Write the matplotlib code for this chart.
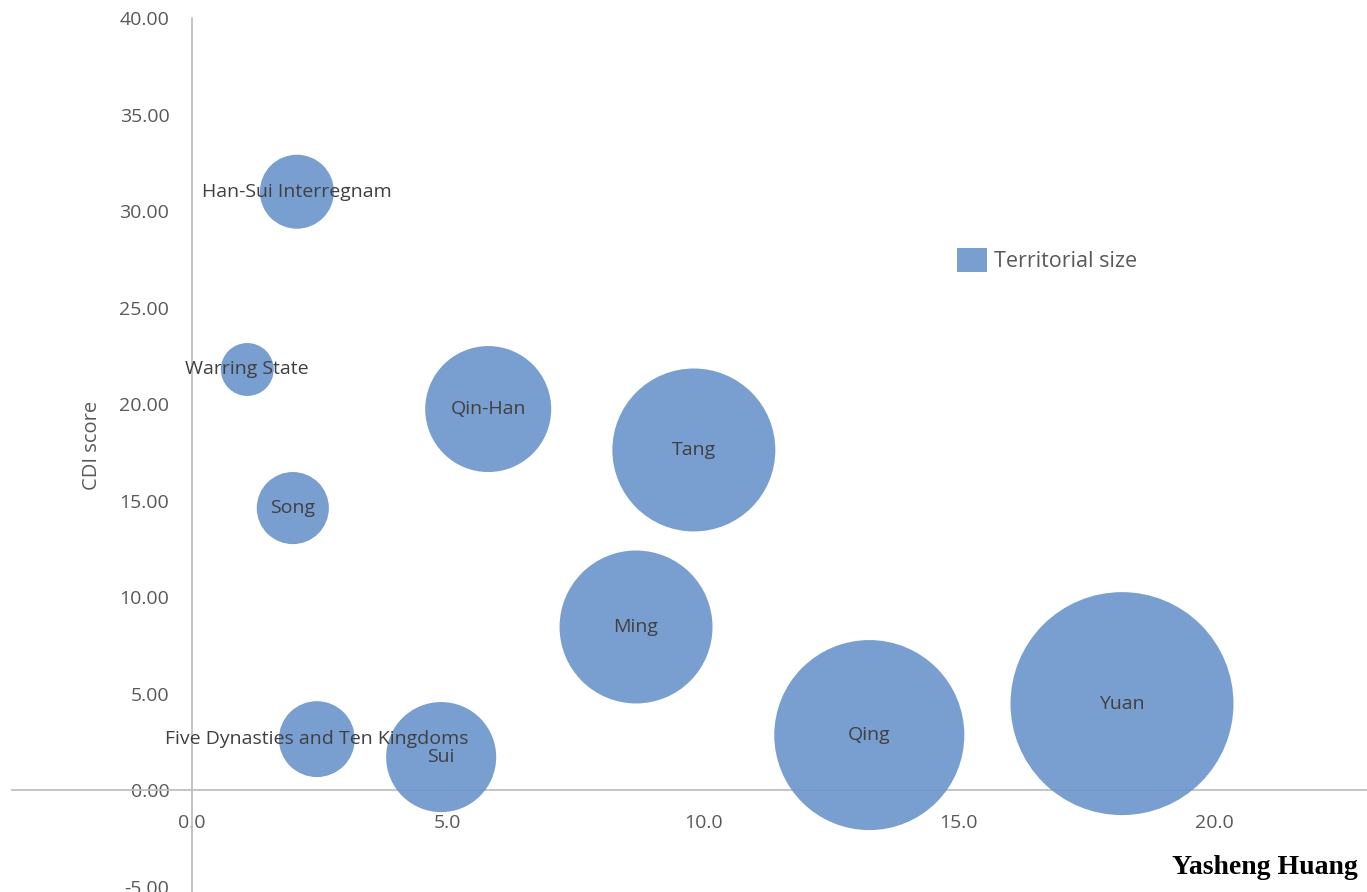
import matplotlib.pyplot as plt
from matplotlib.patches import Patch

# dynasty data: x = ?, y = CDI score, size = territorial size
dynasties = ["Warring State", "Han-Sui Interregnam", "Qin-Han", "Tang", "Song",
             "Ming", "Five Dynasties and Ten Kingdoms", "Sui", "Qing", "Yuan"]
x_vals = [1.09, 2.06, 5.80, 9.82, 1.98, 8.69, 2.45, 4.88, 13.25, 18.19]
cdi = [21.79, 31.00, 19.74, 17.62, 14.61, 8.45, 2.64, 1.71, 2.85, 4.48]
territory = [0.70, 1.37, 3.97, 6.64, 1.30, 5.85, 1.44, 3.03, 9.03, 12.43]

xticks = [0, 5, 10, 15, 20]
yticks = [-5, 0, 5, 10, 15, 20, 25, 30, 35, 40]

W, H = 1367, 892
fig = plt.figure(figsize=(W / 100, H / 100), dpi=100)
ax = fig.add_axes([12 / W, 0, (W - 12) / W, (H - 18) / H])

bubble = "#6B94CB"
ax.scatter(x_vals, cdi, s=[t * 2073.6 for t in territory], color=bubble,
           alpha=0.9, linewidths=0, zorder=3)

font = "Open Sans"
for name, x, y in zip(dynasties, x_vals, cdi):
    ax.text(x, y, name, ha="center", va="center", fontsize=14, color="#404040",
            family=font, zorder=4)

ax.set_xlim(-3.51, 22.98)
ax.set_ylim(-5.28, 40.0)

for side in ["top", "right"]:
    ax.spines[side].set_visible(False)
ax.spines["left"].set_position(("data", 0))
ax.spines["bottom"].set_position(("data", 0))
for side in ["left", "bottom"]:
    ax.spines[side].set_color("#BFBFBF")
    ax.spines[side].set_linewidth(1.3)
    ax.spines[side].set_zorder(2)

ax.set_xticks(xticks)
ax.set_yticks(yticks)
ax.set_xticklabels([f"{v:.1f}" for v in xticks], family=font, fontsize=14, color="#595959")
ax.set_yticklabels([f"{v:.2f}" for v in yticks], family=font, fontsize=14, color="#595959")
ax.tick_params(axis="both", length=0)
ax.tick_params(axis="x", pad=17)
ax.tick_params(axis="y", pad=16)

fig.text(92 / W, 1 - 445 / H, "CDI score", rotation=90, ha="center", va="center",
         fontsize=14.5, color="#595959", family=font)

handle = Patch(facecolor=bubble, alpha=0.9, edgecolor="none", label="Territorial size")
fig.legend(handles=[handle], loc="center left", bbox_to_anchor=(957 / W, 1 - 260 / H),
           frameon=False, borderpad=0, borderaxespad=0, handlelength=1.4,
           handleheight=1.4, handletextpad=0.3, prop={"family": font, "size": 15.5},
           labelcolor="#595959")

fig.text(1358 / W, 1 - 868 / H, "Yasheng Huang", ha="right", va="center",
         fontsize=20, fontweight="bold", family="Liberation Serif", color="black")

fig.savefig("out.png", dpi=100)
